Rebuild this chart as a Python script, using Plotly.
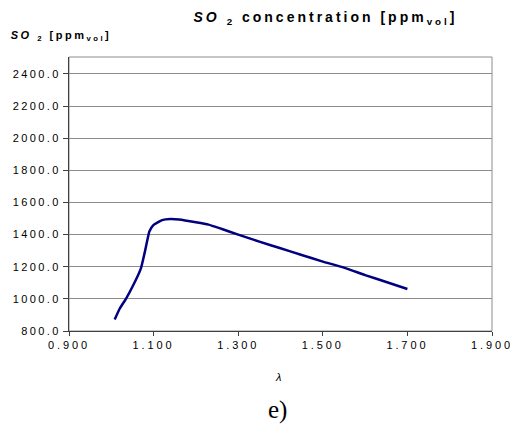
import plotly.graph_objects as go

lam = [1.008, 1.02, 1.035, 1.05, 1.07, 1.08, 1.09, 1.10, 1.12, 1.14, 1.16, 1.20,
       1.23, 1.26, 1.30, 1.35, 1.40, 1.45, 1.50, 1.55, 1.60, 1.65, 1.70]
so2 = [871, 940, 1002, 1075, 1190, 1300, 1419, 1460, 1490, 1497, 1494, 1477,
       1462, 1436, 1400, 1356, 1315, 1273, 1232, 1194, 1148, 1105, 1061]

x_ticks = [0.9, 1.1, 1.3, 1.5, 1.7, 1.9]
y_ticks = [800, 1000, 1200, 1400, 1600, 1800, 2000, 2200, 2400]

fig = go.Figure()
fig.add_trace(go.Scatter(x=lam, y=so2, mode="lines",
                         line=dict(color="#000080", width=2.5, shape="spline", smoothing=0.4),
                         showlegend=False, hoverinfo="skip"))

font = dict(family="Liberation Sans, Arial, sans-serif", size=11, color="black")

fig.update_layout(
    width=518, height=432,
    margin=dict(l=69, r=23, t=57, b=101),
    paper_bgcolor="white", plot_bgcolor="white",
    font=font,
    xaxis=dict(range=[0.9, 1.9], tickvals=x_ticks,
               ticktext=[f"{v:.3f}" for v in x_ticks],
               showgrid=False, zeroline=False, showline=True, linecolor="#404040",
               linewidth=1, ticks="outside", ticklen=4, tickcolor="#404040",
               tickfont=font),
    yaxis=dict(range=[800, 2505], tickvals=y_ticks,
               ticktext=[f"{v:.1f}" for v in y_ticks],
               showgrid=True, gridcolor="#8c8c8c", gridwidth=1, zeroline=False,
               showline=True, linecolor="#404040", linewidth=1,
               ticks="outside", ticklen=5, tickcolor="#404040", tickfont=font),
    shapes=[dict(type="rect", xref="paper", yref="paper", x0=0, x1=1, y0=0, y1=1,
                 line=dict(color="#8c8c8c", width=1), layer="below")],
    annotations=[
        dict(text="<b><i>SO</i> <sub>2</sub> concentration [ppm<sub>vol</sub>]</b>",
             xref="paper", yref="paper", x=(327 - 69) / 426, y=1 + (57 - 18) / 274,
             showarrow=False, xanchor="center", yanchor="middle",
             font=dict(family="Liberation Sans, Arial, sans-serif", size=14)),
        dict(text="<b><i>SO</i> <sub>2</sub> [ppm<sub>vol</sub>]</b>",
             xref="paper", yref="paper", x=(61 - 69) / 426, y=1 + (57 - 36) / 274,
             showarrow=False, xanchor="center", yanchor="middle",
             font=dict(family="Liberation Sans, Arial, sans-serif", size=11)),
        dict(text="<i>λ</i>", xref="paper", yref="paper",
             x=(279 - 69) / 426, y=-(377 - 331) / 274,
             showarrow=False, xanchor="center", yanchor="middle",
             font=dict(family="Liberation Sans, Arial, sans-serif", size=11)),
        dict(text="e)", xref="paper", yref="paper",
             x=(279 - 69) / 426, y=-(410 - 331) / 274,
             showarrow=False, xanchor="center", yanchor="middle",
             font=dict(family="Liberation Serif, Times New Roman, serif", size=25)),
    ],
)

post = """
var gd = document.getElementById('{plot_id}');
function spacing(){
  gd.querySelectorAll('.ytick text').forEach(function(t){t.style.letterSpacing='2.4px';});
  gd.querySelectorAll('.xtick text').forEach(function(t){t.style.letterSpacing='2.9px';});
  var anns = gd.querySelectorAll('.annotation-text');
  if (anns.length > 0) anns[0].style.letterSpacing = '3px';
  if (anns.length > 1) anns[1].style.letterSpacing = '2.5px';
}
spacing();
gd.on('plotly_afterplot', spacing);
"""

fig.write_html("out.html", post_script=post)
